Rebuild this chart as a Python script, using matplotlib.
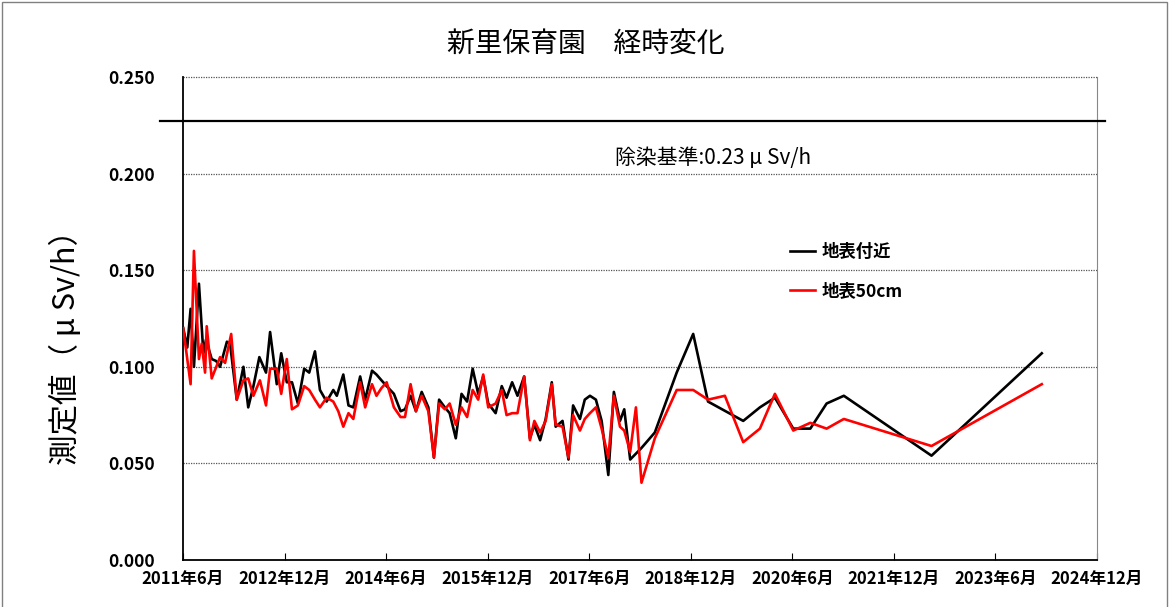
import matplotlib
matplotlib.use('Agg')
from matplotlib import pyplot as plt
from matplotlib.patches import Rectangle
from matplotlib.transforms import blended_transform_factory
import numpy as np

plt.rcParams['font.family'] = ['Noto Sans CJK JP', 'DejaVu Sans']

title = '新里保育園　経時変化'
ylabel = '測定値（ μ Sv/h）'
limit_text = '除染基準:0.23 μ Sv/h'
limit_line = 0.227
series_names = ['地表付近', '地表50cm']

# 地表付近 (black)
black_dates = [
    '2011-06-02', '2011-06-24', '2011-07-12', '2011-07-30', '2011-08-26', '2011-09-19',
    '2011-10-03', '2011-11-03', '2011-11-27', '2011-12-18', '2012-01-24', '2012-02-10',
    '2012-03-17', '2012-04-22', '2012-05-18', '2012-06-15', '2012-07-17', '2012-08-22',
    '2012-09-13', '2012-10-19', '2012-11-12', '2012-12-12', '2013-01-09', '2013-02-10',
    '2013-03-16', '2013-04-12', '2013-05-13', '2013-06-09', '2013-07-15', '2013-08-20',
    '2013-09-08', '2013-10-13', '2013-11-10', '2013-12-06', '2014-01-12', '2014-02-08',
    '2014-03-17', '2014-04-10', '2014-05-07', '2014-06-04', '2014-07-13', '2014-08-18',
    '2014-09-11', '2014-10-11', '2014-11-09', '2014-12-10', '2015-01-15', '2015-02-14',
    '2015-03-14', '2015-04-14', '2015-05-10', '2015-06-12', '2015-07-13', '2015-08-12',
    '2015-09-11', '2015-10-11', '2015-11-07', '2015-12-04', '2016-01-13', '2016-02-15',
    '2016-03-12', '2016-04-11', '2016-05-10', '2016-06-15', '2016-07-16', '2016-08-09',
    '2016-09-09', '2016-10-09', '2016-11-11', '2016-12-02', '2017-01-08', '2017-02-09',
    '2017-03-06', '2017-04-12', '2017-05-08', '2017-06-05', '2017-07-07', '2017-08-07',
    '2017-09-12', '2017-10-12', '2017-11-14', '2017-12-07', '2018-01-08', '2018-03-10',
    '2018-05-21', '2018-09-16', '2018-12-14', '2019-03-04', '2019-09-10', '2019-12-09',
    '2020-02-28', '2020-06-06', '2020-09-06', '2020-12-03', '2021-03-06', '2022-06-22',
    '2024-02-07',
]
black_vals = [
    0.120, 0.110, 0.130, 0.100, 0.143, 0.107,
    0.114, 0.104, 0.103, 0.100, 0.113, 0.112,
    0.083, 0.100, 0.079, 0.090, 0.105, 0.097,
    0.118, 0.091, 0.107, 0.092, 0.092, 0.081,
    0.099, 0.097, 0.108, 0.088, 0.082, 0.088,
    0.085, 0.096, 0.080, 0.079, 0.095, 0.083,
    0.098, 0.096, 0.093, 0.090, 0.086, 0.077,
    0.078, 0.085, 0.077, 0.087, 0.079, 0.053,
    0.083, 0.079, 0.076, 0.063, 0.086, 0.082,
    0.099, 0.086, 0.095, 0.081, 0.076, 0.090,
    0.084, 0.092, 0.085, 0.095, 0.063, 0.070,
    0.062, 0.073, 0.092, 0.069, 0.072, 0.052,
    0.080, 0.073, 0.083, 0.085, 0.083, 0.072,
    0.044, 0.087, 0.072, 0.078, 0.052, 0.058,
    0.066, 0.097, 0.117, 0.082, 0.072, 0.079,
    0.084, 0.068, 0.068, 0.081, 0.085, 0.054,
    0.107,
]

# 地表50cm (red)
red_dates = [
    '2011-06-02', '2011-07-12', '2011-07-30', '2011-08-26', '2011-09-10', '2011-09-28',
    '2011-10-07', '2011-11-03', '2011-12-18', '2012-01-14', '2012-02-16', '2012-03-17',
    '2012-04-22', '2012-05-18', '2012-06-15', '2012-07-20', '2012-08-22', '2012-09-13',
    '2012-10-19', '2012-11-12', '2012-12-12', '2013-01-09', '2013-02-10', '2013-03-16',
    '2013-04-12', '2013-05-13', '2013-06-09', '2013-07-15', '2013-08-20', '2013-09-16',
    '2013-10-13', '2013-11-10', '2013-12-06', '2014-01-12', '2014-02-08', '2014-03-17',
    '2014-04-10', '2014-05-07', '2014-06-04', '2014-07-13', '2014-08-18', '2014-09-11',
    '2014-10-11', '2014-11-09', '2014-12-10', '2015-01-15', '2015-02-14', '2015-03-14',
    '2015-04-14', '2015-05-10', '2015-06-12', '2015-07-13', '2015-08-12', '2015-09-11',
    '2015-10-11', '2015-11-07', '2015-12-04', '2016-01-13', '2016-02-15', '2016-03-12',
    '2016-04-11', '2016-05-10', '2016-06-15', '2016-07-16', '2016-08-09', '2016-09-09',
    '2016-10-09', '2016-11-11', '2016-12-02', '2017-01-08', '2017-02-09', '2017-03-06',
    '2017-04-12', '2017-05-08', '2017-06-05', '2017-07-07', '2017-08-07', '2017-09-12',
    '2017-10-12', '2017-11-14', '2017-12-07', '2018-01-08', '2018-02-08', '2018-03-10',
    '2018-05-21', '2018-09-16', '2018-12-14', '2019-03-04', '2019-06-03', '2019-09-10',
    '2019-12-09', '2020-02-28', '2020-06-06', '2020-09-06', '2020-12-03', '2021-03-06',
    '2022-06-22', '2024-02-07',
]
red_vals = [
    0.120, 0.091, 0.160, 0.104, 0.112, 0.097,
    0.121, 0.094, 0.105, 0.102, 0.117, 0.083,
    0.093, 0.094, 0.085, 0.093, 0.080, 0.099,
    0.099, 0.086, 0.104, 0.078, 0.080, 0.090,
    0.088, 0.083, 0.079, 0.084, 0.082, 0.077,
    0.069, 0.076, 0.073, 0.092, 0.079, 0.091,
    0.085, 0.089, 0.092, 0.079, 0.074, 0.074,
    0.091, 0.077, 0.085, 0.077, 0.053, 0.081,
    0.078, 0.081, 0.070, 0.079, 0.074, 0.088,
    0.083, 0.096, 0.079, 0.081, 0.088, 0.075,
    0.076, 0.076, 0.095, 0.062, 0.072, 0.066,
    0.072, 0.091, 0.070, 0.069, 0.053, 0.075,
    0.067, 0.073, 0.076, 0.079, 0.068, 0.053,
    0.085, 0.069, 0.067, 0.056, 0.079, 0.040,
    0.063, 0.088, 0.088, 0.083, 0.085, 0.061,
    0.068, 0.086, 0.067, 0.071, 0.068, 0.073,
    0.059, 0.091,
]

yticks = [0.0, 0.05, 0.10, 0.15, 0.20, 0.25]
xticks = np.arange('2011-06', '2025-01', 18, dtype='datetime64[M]')
xticklabels = ['2011年6月', '2012年12月', '2014年6月', '2015年12月', '2017年6月',
               '2018年12月', '2020年6月', '2021年12月', '2023年6月', '2024年12月']


def main():
    fig = plt.figure(figsize=(11.71, 6.07), dpi=100)
    ax = fig.add_axes([183 / 1171, 47 / 607, 914 / 1171, 483 / 607])

    bd = np.array(black_dates, dtype='datetime64[D]')
    rd = np.array(red_dates, dtype='datetime64[D]')
    ax.plot(bd, black_vals, color='black', lw=1.9, label=series_names[0], zorder=3)
    ax.plot(rd, red_vals, color='#ff0000', lw=1.9, label=series_names[1], zorder=4)

    ax.set_xlim(np.datetime64('2011-06-01'), np.datetime64('2024-12-01'))
    ax.set_ylim(0, 0.25)
    ax.set_yticks(yticks)
    ax.set_yticklabels(['%.3f' % v for v in yticks], fontsize=12.5, fontweight='bold')
    ax.set_xticks(xticks.astype('datetime64[D]'))
    ax.set_xticklabels(xticklabels, fontsize=12, fontweight='bold')
    ax.tick_params(axis='x', direction='in', length=5, pad=7)
    ax.tick_params(axis='y', length=0, pad=20)

    for v in yticks[1:]:
        ax.axhline(v, color='#555555', lw=0.9, ls=(0, (1, 1)), zorder=1, clip_on=False)
    ax.spines['top'].set_visible(False)
    ax.spines['right'].set_color('#888888')
    ax.spines['right'].set_linewidth(0.8)
    ax.spines['left'].set_linewidth(1.3)
    ax.spines['bottom'].set_linewidth(1.3)

    tr = blended_transform_factory(ax.transAxes, ax.transData)
    ax.plot([-0.025, 1.009], [limit_line, limit_line], color='black', lw=1.6,
            transform=tr, clip_on=False, zorder=5)
    ax.text(0.473, 0.832, limit_text, transform=ax.transAxes, fontsize=15,
            va='center', ha='left')

    ax.legend(loc='upper left', bbox_to_anchor=(0.664, 0.657), frameon=False,
              borderpad=0, borderaxespad=0, handlelength=1.45, handletextpad=0.4,
              labelspacing=1.25, prop={'size': 12.5, 'weight': 'bold'})

    fig.text(0.5, 1 - 44 / 607, title, fontsize=20, ha='center', va='center')
    fig.text(66 / 1171, 1 - 340 / 607, ylabel, fontsize=22, rotation=90,
             ha='center', va='center')

    fig.patches.append(Rectangle((2 / 1171, -0.05), 1165 / 1171, 1.05 - 2 / 607,
                                 transform=fig.transFigure, fill=False,
                                 edgecolor='#808080', lw=1))

    fig.savefig('out.png', dpi=100)


if __name__ == '__main__':
    main()
